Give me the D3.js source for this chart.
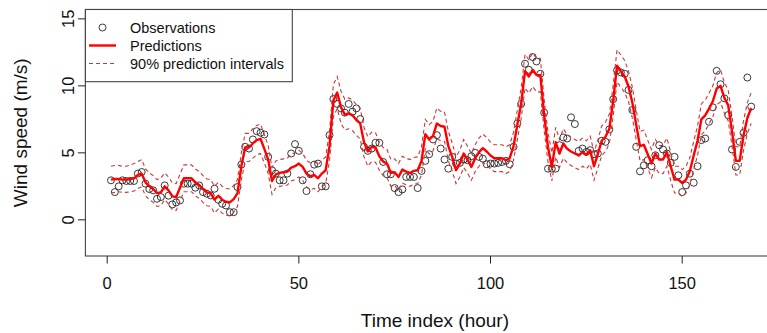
<!DOCTYPE html>
<html><head><meta charset="utf-8">
<script src="https://cdn.jsdelivr.net/npm/d3@7"></script>
<style>html,body{margin:0;padding:0;background:#fff;} svg{display:block;font-family:"Liberation Sans",Arial,sans-serif;}</style>
</head><body>
<script>
// ---- data ----
const hours = d3.range(1, 169);
const observations = [2.95,2.07,2.5,2.95,2.9,2.9,2.9,3.45,3.57,2.7,2.3,2.2,1.57,1.7,2.57,1.8,1.15,1.3,1.45,2.7,
2.7,2.7,2.4,2.57,2.07,1.95,1.82,2.32,1.5,1.2,1.07,0.57,0.57,2.45,4.12,5.45,5.32,6.0,6.62,6.5,
6.37,4.7,3.7,3.45,2.95,2.95,3.45,4.95,5.65,5.15,2.95,2.15,3.4,4.12,4.2,2.5,2.5,6.32,9.02,8.65,
8.32,8.0,8.65,8.07,8.32,7.52,5.45,5.15,5.32,5.75,5.75,4.32,3.4,3.4,2.37,2.07,2.27,3.2,3.2,3.2,
2.37,3.65,4.4,4.9,6.0,6.32,5.32,4.5,3.82,4.7,4.2,4.25,4.5,4.45,4.75,5.0,4.7,4.57,4.15,4.2,
4.2,4.25,4.32,4.4,4.15,5.45,7.2,8.65,11.65,11.2,12.15,11.82,10.9,8.0,3.82,3.82,3.82,5.57,6.15,6.07,
7.65,7.15,5.15,5.32,5.07,5.2,4.9,4.95,5.9,5.82,6.75,9.0,11.15,11.0,10.9,9.7,8.2,5.45,3.62,4.07,
4.45,4.0,4.82,5.57,5.25,4.95,4.25,4.7,3.32,2.07,2.57,3.45,2.77,4.0,5.95,6.07,7.32,8.4,11.12,10.12,
9.07,7.82,5.25,3.95,5.82,6.5,10.62,8.45];
const predictions = [3.0,3.05,3.05,3.0,3.0,3.05,3.1,3.35,3.45,2.8,2.5,2.3,2.0,2.05,2.5,2.2,1.75,1.7,2.4,3.1,
3.1,3.1,2.8,2.6,2.3,2.05,2.0,1.5,1.8,1.5,1.35,1.3,1.55,2.0,4.0,5.4,5.4,5.7,5.95,6.05,
5.3,4.5,2.9,3.4,3.5,3.55,3.6,3.9,4.0,4.2,3.95,3.45,3.25,3.35,3.1,3.45,3.7,5.5,8.9,9.5,
8.4,7.85,7.95,7.8,7.45,7.2,5.8,5.1,5.45,5.4,4.75,4.35,4.2,3.5,3.55,3.2,3.75,3.6,3.5,3.65,
3.7,4.4,6.4,6.0,6.25,7.2,7.0,6.95,5.5,4.7,3.7,4.2,4.95,4.5,3.95,4.6,5.05,5.35,5.1,4.8,
4.6,4.6,4.6,4.45,4.6,5.5,7.1,8.7,11.1,10.7,11.2,10.8,10.8,7.8,5.4,3.95,5.8,4.95,5.7,5.3,
5.1,4.95,4.8,5.05,4.85,5.2,4.0,4.9,5.9,6.2,6.8,8.9,11.5,11.1,10.7,9.95,8.75,7.1,5.5,5.6,
4.9,4.2,4.95,4.5,4.5,5.05,4.0,3.0,3.0,2.75,3.0,3.65,4.8,5.9,7.5,7.8,8.3,8.85,9.8,10.0,
9.1,8.55,6.6,4.4,4.4,6.3,7.6,8.35];
const lower90 = [2.0,2.05,2.1,2.05,2.05,2.1,2.15,2.35,2.45,1.8,1.5,1.3,1.0,1.05,1.5,1.2,0.75,0.7,1.4,2.1,
2.1,2.1,1.8,1.6,1.3,1.05,1.0,0.5,0.8,0.5,0.35,0.3,0.55,1.0,3.0,4.35,4.35,4.6,4.85,4.95,
4.25,3.45,1.9,2.4,2.5,2.55,2.6,2.9,3.0,3.2,2.95,2.45,2.25,2.35,2.1,2.45,2.7,4.4,7.7,8.3,
7.2,6.7,6.8,6.65,6.3,6.05,4.7,4.0,4.35,4.3,3.7,3.3,3.15,2.5,2.55,2.2,2.75,2.6,2.5,2.65,
2.7,3.35,5.3,4.9,5.15,6.05,5.9,5.85,4.4,3.65,2.7,3.2,3.9,3.5,2.95,3.6,4.0,4.3,4.05,3.8,
3.6,3.6,3.6,3.45,3.6,4.45,6.0,7.55,9.85,9.45,9.95,9.55,9.55,6.65,4.3,2.9,4.7,3.9,4.6,4.25,
4.05,3.9,3.75,4.0,3.8,4.15,2.95,3.85,4.8,5.1,5.7,7.75,10.3,9.9,9.5,8.8,7.6,6.0,4.4,4.5,
3.85,3.15,3.9,3.45,3.45,4.0,2.95,2.0,2.0,1.75,2.0,2.65,3.75,4.8,6.35,6.65,7.15,7.7,8.6,8.8,
7.95,7.4,5.5,3.35,3.35,5.2,6.45,7.2];
const upper90 = [4.0,4.05,4.05,4.0,4.0,4.1,4.2,4.35,4.5,3.8,3.5,3.3,3.0,3.1,3.5,3.2,2.75,2.7,3.4,4.1,
4.1,4.1,3.8,3.6,3.3,3.05,3.0,2.5,2.8,2.5,2.35,2.3,2.55,3.0,5.0,6.45,6.45,6.8,7.05,7.15,
6.35,5.55,3.9,4.4,4.5,4.55,4.6,4.9,5.0,5.2,4.95,4.45,4.25,4.35,4.1,4.45,4.7,6.6,10.1,10.7,
9.6,9.0,9.1,8.95,8.6,8.35,6.9,6.2,6.55,6.5,5.8,5.4,5.25,4.5,4.55,4.2,4.75,4.6,4.5,4.65,
4.7,5.45,7.5,7.1,7.35,8.35,8.1,8.05,6.6,5.75,4.7,5.2,6.0,5.5,4.95,5.6,6.1,6.4,6.15,5.8,
5.6,5.6,5.6,5.45,5.6,6.55,8.2,9.85,12.35,11.95,12.45,12.05,12.05,8.95,6.5,5.0,6.9,6.0,6.8,6.35,
6.15,6.0,5.85,6.1,5.9,6.25,5.05,5.95,7.0,7.3,7.9,10.05,12.7,12.3,11.9,11.1,9.9,8.2,6.6,6.7,
5.95,5.25,6.0,5.55,5.55,6.1,5.05,4.0,4.0,3.75,4.0,4.65,5.85,7.0,8.65,8.95,9.45,10.0,11.0,11.2,
10.25,9.7,7.7,5.45,5.45,7.4,8.75,9.5];
const xTicks = [0, 50, 100, 150];
const yTicks = [0, 5, 10, 15];
const legendLabels = ["Observations", "Predictions", "90% prediction intervals"];
const xTitle = "Time index (hour)";
const yTitle = "Wind speed (m/s)";

// ---- layout ----
const W = 767, H = 333;
const plot = {left: 85.4, right: 776.8, top: 9.5, bottom: 256};
const x = d3.scaleLinear().domain([-5.68, 174.68]).range([plot.left, plot.right]);
const y = d3.scaleLinear().domain([-2.7, 15.7]).range([plot.bottom, plot.top]);
const dashCol = "#c93838";

const svg = d3.select("body").append("svg").attr("width", W).attr("height", H);
svg.append("defs").append("clipPath").attr("id", "clip")
  .append("rect").attr("x", plot.left).attr("y", plot.top)
  .attr("width", plot.right - plot.left).attr("height", plot.bottom - plot.top);

const g = svg.append("g").attr("clip-path", "url(#clip)");

// observations
g.selectAll("circle.obs").data(hours).join("circle")
  .attr("class", "obs")
  .attr("cx", (d) => x(d)).attr("cy", (d, i) => y(observations[i]))
  .attr("r", 3.5).attr("fill", "none").attr("stroke", "#222").attr("stroke-width", 0.9);

const line = (arr) => d3.line().x((d) => x(d)).y((d, i) => y(arr[i]))(hours);

g.append("path").attr("d", line(lower90)).attr("fill", "none")
  .attr("stroke", dashCol).attr("stroke-width", 1.1).attr("stroke-dasharray", "4,3");
g.append("path").attr("d", line(upper90)).attr("fill", "none")
  .attr("stroke", dashCol).attr("stroke-width", 1.1).attr("stroke-dasharray", "4,3");
g.append("path").attr("d", line(predictions)).attr("fill", "none")
  .attr("stroke", "#ff0000").attr("stroke-width", 2.4).attr("stroke-linejoin", "round");

// box
svg.append("rect").attr("x", plot.left).attr("y", plot.top)
  .attr("width", plot.right - plot.left).attr("height", plot.bottom - plot.top)
  .attr("fill", "none").attr("stroke", "#444").attr("stroke-width", 1.1);

// x axis
const xa = svg.append("g");
xa.selectAll("line").data(xTicks).join("line")
  .attr("x1", (d) => x(d)).attr("x2", (d) => x(d))
  .attr("y1", plot.bottom).attr("y2", plot.bottom + 7.5)
  .attr("stroke", "#222").attr("stroke-width", 1);
xa.selectAll("text").data(xTicks).join("text")
  .attr("x", (d) => x(d)).attr("y", 289).attr("text-anchor", "middle")
  .attr("font-size", 16.5).attr("fill", "#111").text((d) => d);

// y axis
const ya = svg.append("g");
ya.selectAll("line").data(yTicks).join("line")
  .attr("x1", plot.left).attr("x2", plot.left - 7.5)
  .attr("y1", (d) => y(d)).attr("y2", (d) => y(d))
  .attr("stroke", "#222").attr("stroke-width", 1);
ya.selectAll("text").data(yTicks).join("text")
  .attr("transform", (d) => `translate(74,${y(d)}) rotate(-90)`)
  .attr("text-anchor", "middle").attr("font-size", 16.5).attr("fill", "#111").text((d) => d);

// titles
svg.append("text").attr("x", x(85.5)).attr("y", 327).attr("text-anchor", "middle")
  .attr("font-size", 19).attr("fill", "#111").text(xTitle);
svg.append("text").attr("transform", `translate(27,${(plot.top + plot.bottom) / 2}) rotate(-90)`)
  .attr("text-anchor", "middle").attr("font-size", 19).attr("fill", "#111").text(yTitle);

// legend
const lg = svg.append("g");
lg.append("rect").attr("x", plot.left).attr("y", plot.top).attr("width", 292.3 - plot.left)
  .attr("height", 81.7 - plot.top).attr("fill", "#fff").attr("stroke", "#444").attr("stroke-width", 1.1);
const rows = [27.5, 45.5, 63.5];
lg.append("circle").attr("cx", 102.5).attr("cy", rows[0]).attr("r", 3.5)
  .attr("fill", "none").attr("stroke", "#222").attr("stroke-width", 0.9);
lg.append("line").attr("x1", 89).attr("x2", 116).attr("y1", rows[1]).attr("y2", rows[1])
  .attr("stroke", "#ff0000").attr("stroke-width", 2.4);
lg.append("line").attr("x1", 89).attr("x2", 116).attr("y1", rows[2]).attr("y2", rows[2])
  .attr("stroke", dashCol).attr("stroke-width", 1.1).attr("stroke-dasharray", "4,3");
lg.selectAll("text").data(legendLabels).join("text")
  .attr("x", 130).attr("y", (d, i) => rows[i] + 5).attr("font-size", 14.5).attr("fill", "#111")
  .text((d) => d);
</script>
</body></html>
